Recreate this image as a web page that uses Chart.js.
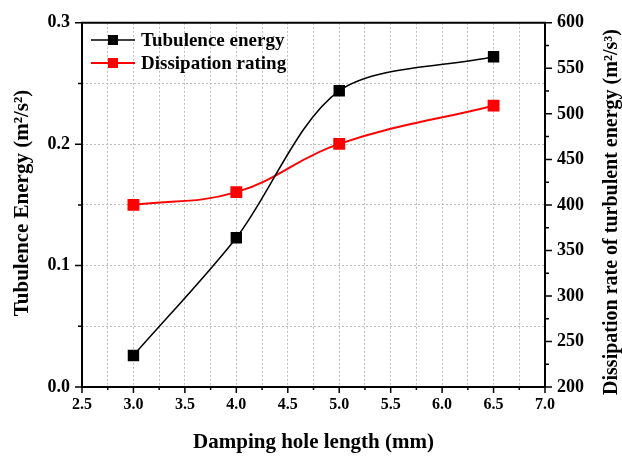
<!DOCTYPE html>
<html>
<head>
<meta charset="utf-8">
<script src="https://cdn.jsdelivr.net/npm/chart.js@4"></script>
<style>
  html, body { margin: 0; padding: 0; background: #fff; }
  #wrap { width: 622px; height: 456px; position: relative; }
</style>
</head>
<body>
<div id="wrap"><canvas id="chart"></canvas></div>
<script>
// data
const holeLength = [3.0, 4.0, 5.0, 6.5];
const turbEnergy = [0.026, 0.123, 0.244, 0.272];
const dissRate = [400, 414, 467, 509];

const seriesNames = ['Tubulence energy', 'Dissipation rating'];
const seriesColors = ['#000000', '#ff0000'];

const xTitle = 'Damping hole length (mm)';
const yTitle = 'Tubulence Energy (m\u00b2/s\u00b2)';
const y1Title = 'Dissipation rate of turbulent energy (m\u00b2/s\u00b3)';

const FONT = '"Liberation Serif", "Times New Roman", serif';

function isMajor(v, step) {
  const r = v / step;
  return Math.abs(r - Math.round(r)) < 1e-6;
}

// axes, tick marks, titles and legend drawn on top
const decor = {
  id: 'decor',
  afterDraw(chart) {
    const ctx = chart.ctx;
    const a = chart.chartArea;
    const sx = chart.scales.x, sy = chart.scales.y, sy1 = chart.scales.y1;
    ctx.save();
    ctx.strokeStyle = '#000';
    ctx.lineWidth = 2;
    ctx.beginPath();
    ctx.rect(a.left, a.top, a.right - a.left, a.bottom - a.top);
    ctx.stroke();

    ctx.lineWidth = 1.5;
    ctx.beginPath();
    sx.ticks.forEach(t => {
      const p = sx.getPixelForValue(t.value);
      const len = isMajor(t.value, 0.5) ? 6 : 3;
      ctx.moveTo(p, a.bottom); ctx.lineTo(p, a.bottom + len);
    });
    sy.ticks.forEach(t => {
      const p = sy.getPixelForValue(t.value);
      const len = isMajor(t.value, 0.1) ? 7 : 4;
      ctx.moveTo(a.left, p); ctx.lineTo(a.left - len, p);
    });
    sy1.ticks.forEach(t => {
      const p = sy1.getPixelForValue(t.value);
      const len = isMajor(t.value, 50) ? 7 : 4;
      ctx.moveTo(a.right, p); ctx.lineTo(a.right + len, p);
    });
    ctx.stroke();

    // titles
    ctx.fillStyle = '#000';
    ctx.textAlign = 'center';
    ctx.textBaseline = 'middle';
    ctx.font = 'bold 21px ' + FONT;
    ctx.fillText(xTitle, (a.left + a.right) / 2, 443);

    ctx.save();
    ctx.translate(23, 203);
    ctx.rotate(-Math.PI / 2);
    ctx.fillText(yTitle, 0, 0);
    ctx.restore();

    ctx.font = 'bold 20px ' + FONT;
    ctx.save();
    ctx.translate(612, 212);
    ctx.rotate(-Math.PI / 2);
    ctx.fillText(y1Title, 0, 0);
    ctx.restore();

    // legend
    ctx.textAlign = 'left';
    ctx.font = 'bold 19px ' + FONT;
    seriesNames.forEach((name, i) => {
      const y = 40 + i * 23;
      ctx.strokeStyle = seriesColors[i];
      ctx.fillStyle = seriesColors[i];
      ctx.lineWidth = i === 0 ? 1.5 : 2;
      ctx.beginPath();
      ctx.moveTo(91, y); ctx.lineTo(135, y);
      ctx.stroke();
      ctx.fillRect(108, y - 5, 10, 10);
      ctx.fillStyle = '#000';
      ctx.fillText(name, 141, y + 1);
    });
    ctx.restore();
  }
};

new Chart(document.getElementById('chart'), {
  type: 'line',
  data: {
    datasets: [
      {
        label: seriesNames[0],
        data: holeLength.map((x, i) => ({ x: x, y: turbEnergy[i] })),
        yAxisID: 'y',
        borderColor: seriesColors[0],
        backgroundColor: seriesColors[0],
        borderWidth: 1.5,
        tension: 0.3,
        pointStyle: 'rect',
        pointRadius: 7,
        pointHoverRadius: 7
      },
      {
        label: seriesNames[1],
        data: holeLength.map((x, i) => ({ x: x, y: dissRate[i] })),
        yAxisID: 'y1',
        borderColor: seriesColors[1],
        backgroundColor: seriesColors[1],
        borderWidth: 2,
        tension: 0.4,
        pointStyle: 'rect',
        pointRadius: 7,
        pointHoverRadius: 7
      }
    ]
  },
  options: {
    responsive: true,
    maintainAspectRatio: false,
    animation: false,
    layout: { padding: { top: 15, left: 0, right: 0, bottom: 0 } },
    plugins: {
      legend: { display: false },
      tooltip: { enabled: false }
    },
    scales: {
      x: {
        type: 'linear',
        min: 2.5, max: 7.0,
        afterFit: s => { s.height = 69; },
        ticks: {
          stepSize: 0.25,
          autoSkip: false,
          maxRotation: 0,
          padding: 8,
          color: '#000',
          font: { family: FONT, size: 16, weight: 'bold' },
          callback: v => isMajor(v, 0.5) ? v.toFixed(1) : ''
        },
        grid: { color: '#bdbdbd', lineWidth: 1, drawTicks: false },
        border: { display: false, dash: [2, 2] }
      },
      y: {
        position: 'left',
        min: 0, max: 0.3,
        afterFit: s => { s.width = 82; },
        ticks: {
          stepSize: 0.05,
          autoSkip: false,
          padding: 12,
          color: '#000',
          font: { family: FONT, size: 18, weight: 'bold' },
          callback: v => isMajor(v, 0.1) ? v.toFixed(1) : ''
        },
        grid: { color: '#bdbdbd', lineWidth: 1, drawTicks: false },
        border: { display: false, dash: [2, 2] }
      },
      y1: {
        position: 'right',
        min: 200, max: 600,
        afterFit: s => { s.width = 77; },
        ticks: {
          stepSize: 25,
          autoSkip: false,
          padding: 12,
          color: '#000',
          font: { family: FONT, size: 18, weight: 'bold' },
          callback: v => isMajor(v, 50) ? String(v) : ''
        },
        grid: { display: false, drawTicks: false },
        border: { display: false }
      }
    }
  },
  plugins: [decor]
});
</script>
</body>
</html>
